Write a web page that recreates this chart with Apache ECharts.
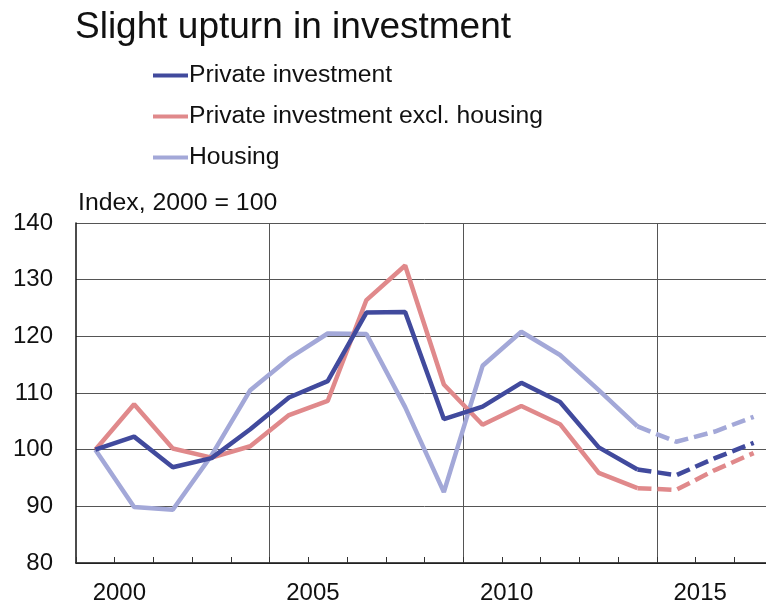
<!DOCTYPE html>
<html>
<head>
<meta charset="utf-8">
<script src="https://cdn.jsdelivr.net/npm/echarts@6/dist/echarts.min.js"></script>
<style>
html,body{margin:0;padding:0;background:#fff;overflow:hidden;width:766px;height:605px;}
#chart{width:780px;height:605px;}
</style>
</head>
<body>
<div id="chart"></div>
<script>
var years = ['2000','2001','2002','2003','2004','2005','2006','2007','2008','2009','2010','2011','2012','2013','2014','2015','2016','2017'];
var privateInv = [100, 102.3, 96.9, 98.5, 103.6, 109.2, 112.1, 124.2, 124.3, 105.4, 107.6, 111.8, 108.4, 100.4, 96.5, 95.5, 98.5, 101.2];
var privateExHousing = [100, 108.0, 100.2, 98.6, 100.6, 106.1, 108.6, 126.4, 132.5, 111.5, 104.4, 107.7, 104.5, 95.9, 93.2, 92.9, 96.4, 99.4];
var housing = [100, 89.9, 89.4, 99.0, 110.5, 116.1, 120.5, 120.4, 107.5, 92.5, 114.8, 120.8, 116.7, 110.5, 104.1, 101.4, 103.2, 105.8];
var forecastStart = 14; // 2014 onwards dashed
var names = ['Private investment', 'Private investment excl. housing', 'Housing'];
var colors = ['#414a9d', '#e0898b', '#a3a8d8'];
var labelYears = ['2000','2005','2010','2015'];

function solidPart(arr){ return arr.map(function(v,i){ return i <= forecastStart ? v : null; }); }
function dashPart(arr){ return arr.map(function(v,i){ return i >= forecastStart ? v : null; }); }

var dataSets = [privateInv, privateExHousing, housing];
var series = [];
dataSets.forEach(function(arr, k){
  series.push({
    name: names[k], type: 'line', data: solidPart(arr), symbol: 'none', z: 10 - k,
    lineStyle: {color: colors[k], width: 4.5}, itemStyle: {color: colors[k]}
  });
});
dataSets.forEach(function(arr, k){
  series.push({
    name: names[k], type: 'line', data: dashPart(arr), symbol: 'none', z: 10 - k,
    lineStyle: {color: colors[k], width: 4.5, type: [14, 6]}, itemStyle: {color: colors[k]}
  });
});

var chart = echarts.init(document.getElementById('chart'));
chart.setOption({
  animation: false,
  backgroundColor: '#fff',
  textStyle: {fontFamily: 'Liberation Sans, Arial, sans-serif'},
  title: {
    text: 'Slight upturn in investment',
    left: 70, top: 4,
    textStyle: {fontSize: 37, fontWeight: 'normal', color: '#111', fontFamily: 'Liberation Sans, Arial, sans-serif'}
  },
  legend: {
    data: names.map(function(n){ return {name: n, icon: 'rect'}; }),
    orient: 'vertical',
    left: 153, top: 63,
    padding: 0,
    itemWidth: 35, itemHeight: 4,
    itemGap: 16,
    textStyle: {fontSize: 24.7, color: '#111', padding: [0,0,0,-4], fontFamily: 'Liberation Sans, Arial, sans-serif'}
  },
  graphic: [{
    type: 'text', left: 78, top: 191,
    style: {text: 'Index, 2000 = 100', fontSize: 24.8, fill: '#111', fontFamily: 'Liberation Sans, Arial, sans-serif'}
  }],
  grid: {left: 76, top: 223, width: 697, height: 340},
  xAxis: {
    type: 'category',
    data: years,
    boundaryGap: true,
    axisLine: {lineStyle: {color: '#111', width: 1.5}},
    axisTick: {show: true, inside: true, length: 6, interval: 0, lineStyle: {color: '#333'}},
    axisLabel: {
      interval: 0,
      fontSize: 24, color: '#111',
      formatter: function(v){ return labelYears.indexOf(v) >= 0 ? v : ''; },
      padding: [0,0,0,48],
      margin: 18
    },
    splitLine: {show: true, interval: function(i){ return i > 0 && i % 5 === 0; }, lineStyle: {color: '#555', width: 1}}
  },
  yAxis: {
    type: 'value',
    min: 80, max: 140, interval: 10,
    axisLine: {show: true, lineStyle: {color: '#111', width: 1.5}},
    axisTick: {show: false},
    axisLabel: {fontSize: 24, color: '#111', margin: 23},
    splitLine: {show: true, lineStyle: {color: '#555', width: 1}}
  },
  series: series
});
</script>
</body>
</html>
